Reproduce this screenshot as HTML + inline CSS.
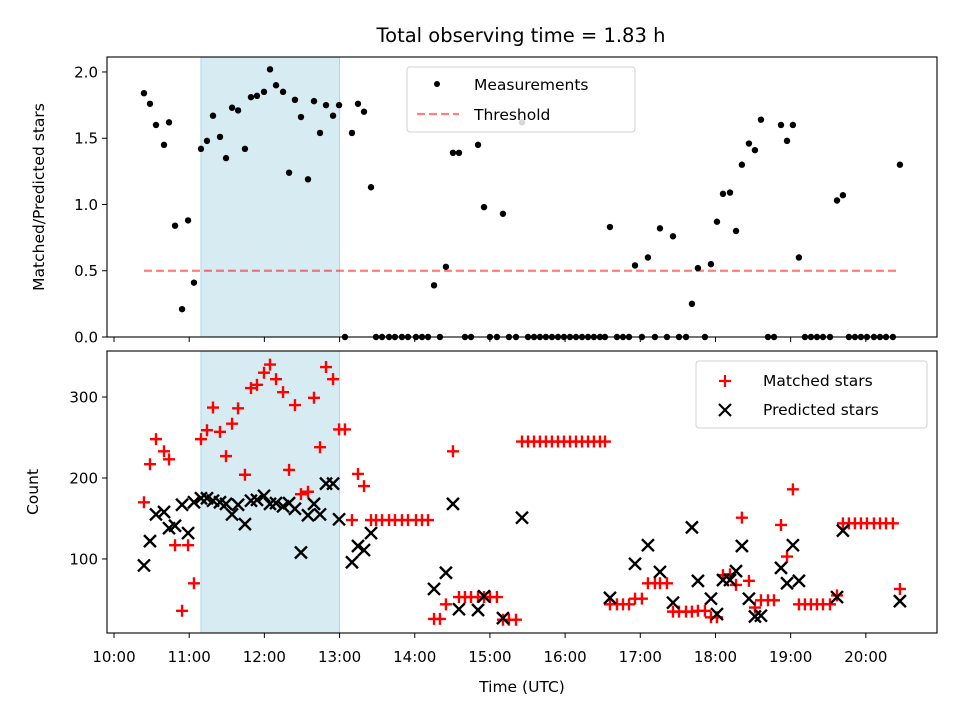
<!DOCTYPE html>
<html><head><meta charset="utf-8">
<style>
html,body{margin:0;padding:0;background:#fff;}
svg{display:block;font-family:"DejaVu Sans","Liberation Sans",sans-serif;}
</style></head>
<body>
<svg id="chart" width="960" height="720" viewBox="0 0 960 720" xmlns="http://www.w3.org/2000/svg">
<rect width="960" height="720" fill="#fff"/>
<text x="521" y="42" font-size="19.5" text-anchor="middle" fill="#000">Total observing time = 1.83 h</text>
<g id="top"></g>
<g id="bot"></g>
</svg>
<script>
// time in minutes after 10:00 UTC
const times = [23.9,28.7,33.5,39.9,43.9,48.7,54.3,59.1,63.8,69.4,74.2,79.0,84.6,89.4,94.2,99.0,104.5,109.3,114.1,119.7,124.5,129.3,134.9,139.7,144.4,149.2,154.8,159.6,164.4,169.2,174.8,179.6,184.3,189.9,194.7,199.5,205.1,209.1,213.9,219.5,224.2,229.8,234.6,241.0,245.8,250.6,255.4,260.1,264.9,270.5,275.3,280.1,284.9,290.5,295.3,300.0,305.6,310.4,315.2,320.8,325.6,330.4,335.2,339.9,344.7,349.5,354.3,359.1,363.9,368.7,373.5,378.3,383.0,387.8,391.8,395.8,401.4,406.2,411.0,415.8,421.3,426.1,431.7,435.7,441.3,446.1,450.9,456.5,461.2,466.0,471.6,476.4,481.2,486.0,491.6,496.4,501.1,506.7,511.5,516.3,521.9,526.7,532.3,537.1,541.8,546.6,551.4,556.2,561.0,565.8,571.4,577.0,581.7,586.5,591.3,596.1,600.9,606.5,611.3,616.1,621.6,627.2];
const ratio = [1.84,1.76,1.60,1.45,1.62,0.84,0.21,0.88,0.41,1.42,1.48,1.67,1.51,1.35,1.73,1.71,1.42,1.81,1.82,1.85,2.02,1.90,1.85,1.24,1.79,1.66,1.19,1.78,1.54,1.75,1.67,1.75,0,1.54,1.76,1.70,1.13,0,0,0,0,0,0,0,0,0,0.39,0,0.53,1.39,1.39,0,0,1.45,0.98,0,0,0.93,0,0,1.62,0,0,0,0,0,0,0,0,0,0,0,0,0,0,0.83,0,0,0,0.54,0,0.60,0,0.82,0,0.76,0,0,0.25,0.52,0,0.55,0.87,1.08,1.09,0.80,1.30,1.46,1.41,1.64,0,0,1.60,1.48,1.60,0.60,0,0,0,0,0,1.03,1.07,0,0,0,0,0,0,0,0,1.30];
const matched = [170,217,248,233,223,117,36,117,70,248,259,287,257,227,267,286,204,311,315,330,340,322,306,210,290,180,183,299,238,337,322,260,260,148,205,190,148,148,148,148,148,148,148,148,148,148,26,26,44,233,53,53,53,53,53,53,53,25,25,25,245,245,245,245,245,245,245,245,245,245,245,245,245,245,245,44,44,44,44,51,51,70,70,70,70,35,35,35,35,36,36,28,28,80,81,68,151,73,40,49,49,49,142,103,186,44,44,44,44,44,44,55,144,144,144,144,144,144,144,144,144,63];
const predicted = [92,122,155,158,138,141,167,132,170,175,175,172,170,168,155,167,143,172,173,178,168,169,165,169,162,108,154,168,155,193,193,149,0,96,116,111,132,0,0,0,0,0,0,0,0,0,63,0,83,168,38,0,0,37,54,0,0,27,0,0,151,0,0,0,0,0,0,0,0,0,0,0,0,0,0,52,0,0,0,94,0,117,0,84,0,46,0,0,139,73,0,51,32,74,74,85,116,51,29,30,0,0,89,70,117,73,0,0,0,0,0,53,135,0,0,0,0,0,0,0,0,48];
const xTickLabels = ["10:00","11:00","12:00","13:00","14:00","15:00","16:00","17:00","18:00","19:00","20:00"];
const topTicks = [0,0.5,1.0,1.5,2.0];
const botTicks = [100,200,300];
const threshold = 0.5;
const shadeStart = 69.4, shadeEnd = 180;

const NS = "http://www.w3.org/2000/svg";
const L = 107, R = 937;
const xMin = -5.6, xMax = 656.8;
const T = {top:57, bot:337, ymin:0, ymax:2.113};
const B = {top:351, bot:633, ymin:8.6, ymax:356.8};
function X(m){ return L + (m - xMin) / (xMax - xMin) * (R - L); }
function Yt(v){ return T.bot - (v - T.ymin) / (T.ymax - T.ymin) * (T.bot - T.top); }
function Yb(v){ return B.bot - (v - B.ymin) / (B.ymax - B.ymin) * (B.bot - B.top); }
function mk(tag, attrs, parent){
  const e = document.createElementNS(NS, tag);
  for (const k in attrs) e.setAttribute(k, attrs[k]);
  parent.appendChild(e);
  return e;
}
const gT = document.getElementById('top');
const gB = document.getElementById('bot');

function panel(g, P, name){
  const sh = mk('rect', {x:X(shadeStart), y:P.top, width:X(shadeEnd)-X(shadeStart), height:P.bot-P.top, fill:'#add8e6', 'fill-opacity':0.5, stroke:'#add8e6', 'stroke-width':1}, g);
  
  
}
function frame(g, P, name){
  const f = mk('rect', {x:L, y:P.top, width:R-L, height:P.bot-P.top, fill:'none', stroke:'#000', 'stroke-width':1.1}, g);
  
  
  xTickLabels.forEach((lab, i) => {
    const x = X(i * 60);
    const t = mk('line', {x1:x, x2:x, y1:P.bot, y2:P.bot+5, stroke:'#000', 'stroke-width':1}, g);
    
    
  });
}
panel(gT, T, 'top');
panel(gB, B, 'bottom');

const th = mk('line', {x1:X(times[0]), x2:X(times[times.length-1]), y1:Yt(threshold), y2:Yt(threshold), stroke:'#ff0000', 'stroke-opacity':0.5, 'stroke-width':2.2, 'stroke-dasharray':'8,4'}, gT);



ratio.forEach((v, i) => {
  const c = mk('circle', {cx:X(times[i]), cy:Yt(v), r:3.2, fill:'#000'}, gT);
  
  
});

const defs = mk('defs', {}, document.getElementById('chart'));
const cp = mk('clipPath', {id:'bclip'}, defs);
mk('rect', {x:L, y:B.top, width:R-L, height:B.bot-B.top}, cp);
const gBM = mk('g', {'clip-path':'url(#bclip)'}, gB);

function plus(g, x, y, s){
  return mk('path', {d:`M${x-s},${y}H${x+s}M${x},${y-s}V${y+s}`, stroke:'#ff0000', 'stroke-width':2.4, fill:'none'}, g);
}
function cross(g, x, y, s){
  return mk('path', {d:`M${x-s},${y-s}L${x+s},${y+s}M${x-s},${y+s}L${x+s},${y-s}`, stroke:'#000', 'stroke-width':2.4, fill:'none'}, g);
}
matched.forEach((v, i) => {
  const p = plus(gBM, X(times[i]), Yb(v), 6);
  
  
});
predicted.forEach((v, i) => {
  const p = cross(gBM, X(times[i]), Yb(v), 6);
  
  
});

frame(gT, T, 'top');
frame(gB, B, 'bottom');

xTickLabels.forEach((lab, i) => {
  const t = mk('text', {x:X(i*60), y:B.bot+29, 'font-size':15, 'text-anchor':'middle', fill:'#000'}, gB);
  t.textContent = lab;
  
  
});
topTicks.forEach(v => {
  const y = Yt(v);
  const l = mk('line', {x1:L-5, x2:L, y1:y, y2:y, stroke:'#000', 'stroke-width':1}, gT);
  
  
  const t = mk('text', {x:L-9, y:y+5.5, 'font-size':15, 'text-anchor':'end', fill:'#000'}, gT);
  t.textContent = v.toFixed(1);
  
  
});
botTicks.forEach(v => {
  const y = Yb(v);
  const l = mk('line', {x1:L-5, x2:L, y1:y, y2:y, stroke:'#000', 'stroke-width':1}, gB);
  
  
  const t = mk('text', {x:L-9, y:y+5.5, 'font-size':15, 'text-anchor':'end', fill:'#000'}, gB);
  t.textContent = String(v);
  
  
});
</script>
<svg style="position:absolute;left:0;top:0" width="960" height="720" xmlns="http://www.w3.org/2000/svg" font-family="DejaVu Sans, Liberation Sans, sans-serif">
<text x="522" y="692" font-size="15.5" text-anchor="middle">Time (UTC)</text>
<text transform="translate(44,197) rotate(-90)" font-size="15.5" text-anchor="middle">Matched/Predicted stars</text>
<text transform="translate(38,492) rotate(-90)" font-size="15.5" text-anchor="middle">Count</text>
<g>
<rect x="407" y="67" width="228" height="65" rx="3" fill="#fff" fill-opacity="0.85" stroke="#d0d0d0" stroke-width="1"/>
<circle cx="437" cy="84" r="3" fill="#000"/>
<text x="474" y="90" font-size="15.5">Measurements</text>
<line x1="417" x2="459" y1="114" y2="114" stroke="#ff0000" stroke-opacity="0.5" stroke-width="2.2" stroke-dasharray="8,4"/>
<text x="474" y="120" font-size="15.5">Threshold</text>
</g>
<g>
<rect x="696" y="361" width="231" height="67" rx="3" fill="#fff" fill-opacity="0.85" stroke="#d0d0d0" stroke-width="1"/>
<path d="M719,381H731M725,375V387" stroke="#ff0000" stroke-width="2.2"/>
<text x="763" y="386" font-size="15.5">Matched stars</text>
<path d="M719,404L731,416M719,416L731,404" stroke="#000" stroke-width="2.2"/>
<text x="763" y="415" font-size="15.5">Predicted stars</text>
</g>
</svg>
</body></html>
